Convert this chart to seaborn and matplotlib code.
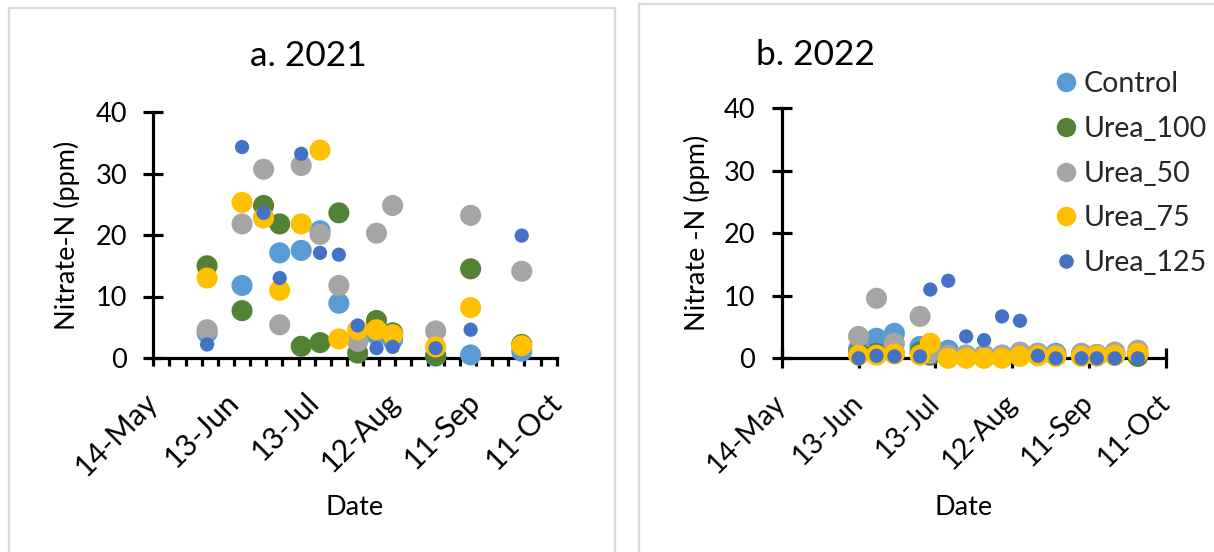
import numpy as np
import pandas as pd
import matplotlib
matplotlib.use("Agg")
import matplotlib.pyplot as plt
import matplotlib.dates as mdates
from matplotlib.ticker import FuncFormatter, FixedLocator
from matplotlib.lines import Line2D
from matplotlib.patches import Rectangle
import seaborn as sns

# ---------------- data ----------------
series = ["Control", "Urea_100", "Urea_50", "Urea_75", "Urea_125"]

dates_2021 = ["2021-06-03", "2021-06-16", "2021-06-24", "2021-06-30", "2021-07-08",
              "2021-07-15", "2021-07-22", "2021-07-29", "2021-08-05", "2021-08-11",
              "2021-08-27", "2021-09-09", "2021-09-28"]
control_2021 = [4.1, 11.8, 22.8, 17.1, 17.5, 20.7, 8.9, 3.0, 3.8, 3.0, 0.3, 0.5, 1.1]
urea100_2021 = [15.0, 7.7, 24.8, 21.8, 1.9, 2.5, 23.6, 0.8, 6.1, 4.1, 0.4, 14.5, 2.2]
urea50_2021 = [4.6, 21.8, 30.7, 5.4, 31.3, 20.1, 11.8, 2.7, 20.3, 24.8, 4.4, 23.2, 14.1]
urea75_2021 = [13.0, 25.3, 22.8, 11.0, 21.8, 33.8, 3.1, 4.6, 4.6, 3.8, 1.8, 8.2, 2.0]
urea125_2021 = [2.2, 34.3, 23.6, 13.0, 33.2, 17.1, 16.8, 5.3, 1.6, 1.8, 1.6, 4.6, 19.9]

dates_2022 = ["2022-06-13", "2022-06-20", "2022-06-27", "2022-07-07", "2022-07-11",
              "2022-07-18", "2022-07-25", "2022-08-01", "2022-08-08", "2022-08-15",
              "2022-08-22", "2022-08-29", "2022-09-08", "2022-09-14", "2022-09-21",
              "2022-09-30"]
control_2022 = [1.5, 3.2, 4.0, 1.9, 0.8, 1.3, 0.5, 0.5, 0.5, 0.8, 0.8, 0.8, 0.6, 0.6, 0.8, 0.8]
urea100_2022 = [0.8, 0.8, 0.8, 1.0, 0.5, 0.3, 0.3, 0.3, 0.3, 0.5, 0.5, 0.5, 0.4, 0.4, 0.5, 0.3]
urea50_2022 = [3.5, 9.6, 2.4, 6.7, 0.8, 0.5, 0.5, 0.5, 0.5, 1.0, 0.8, 0.6, 0.8, 0.6, 1.0, 1.3]
urea75_2022 = [0.5, 0.5, 0.7, 0.5, 2.4, 0.0, 0.0, 0.0, 0.0, 0.3, 0.4, 0.3, 0.3, 0.4, 0.5, 0.8]
urea125_2022 = [0.0, 0.4, 0.3, 0.3, 11.0, 12.4, 3.5, 2.9, 6.7, 6.0, 0.4, 0.0, 0.0, 0.0, 0.0, 0.0]

x_ticks_2021 = ["2021-05-14", "2021-06-13", "2021-07-13", "2021-08-12", "2021-09-11", "2021-10-11"]
x_ticks_2022 = ["2022-05-14", "2022-06-13", "2022-07-13", "2022-08-12", "2022-09-11", "2022-10-11"]
y_ticks = [0, 10, 20, 30, 40]

colors = {"Control": "#5B9BD5", "Urea_100": "#548235", "Urea_50": "#A5A5A5",
          "Urea_75": "#FFC000", "Urea_125": "#4472C4"}
sizes = {"Control": 230, "Urea_100": 230, "Urea_50": 230, "Urea_75": 230, "Urea_125": 105}


def long_df(dates, cols):
    frames = []
    for name, vals in zip(series, cols):
        frames.append(pd.DataFrame({"Date": pd.to_datetime(dates), "Nitrate": vals,
                                    "Treatment": name}))
    return pd.concat(frames, ignore_index=True)


df1 = long_df(dates_2021, [control_2021, urea100_2021, urea50_2021, urea75_2021, urea125_2021])
df2 = long_df(dates_2022, [control_2022, urea100_2022, urea50_2022, urea75_2022, urea125_2022])

# ---------------- figure ----------------
sns.set_theme(style="white")
plt.rcParams["font.family"] = ["Lato", "DejaVu Sans"]

W, H = 1214, 552
fig = plt.figure(figsize=(W / 100, H / 100), dpi=100)
fig.patch.set_facecolor("white")

# chart-area borders
fig.patches.append(Rectangle((9 / W, -0.1), (615 - 9) / W, 1.1 - 8 / H, transform=fig.transFigure,
                             fill=False, edgecolor="#D9D9D9", lw=1.6))
fig.patches.append(Rectangle((639 / W, -0.1), 0.6, 1.1 - 4 / H, transform=fig.transFigure,
                             fill=False, edgecolor="#D9D9D9", lw=1.6))

ax1 = fig.add_axes([153.3 / W, 1 - 358 / H, 403.4 / W, 246 / H])
ax2 = fig.add_axes([781.7 / W, 1 - 358.3 / H, 384.3 / W, 250 / H])

FS = 19.5
lw = 2.3


def fmt_date(x, pos=None):
    d = mdates.num2date(x)
    return f"{d.day}-{d.strftime('%b')}"


for ax, df, ticks in [(ax1, df1, x_ticks_2021), (ax2, df2, x_ticks_2022)]:
    sns.scatterplot(data=df, x="Date", y="Nitrate", hue="Treatment", size="Treatment",
                    hue_order=series, size_order=series, palette=colors, sizes=sizes,
                    linewidth=0, legend=False, ax=ax, clip_on=False, zorder=3)
    ax.set_facecolor("none")
    tk = pd.to_datetime(ticks)
    ax.set_xlim(tk[0], tk[-1])
    ax.set_ylim(0, 40)
    ax.set_yticks(y_ticks)
    ax.xaxis.set_major_locator(FixedLocator(mdates.date2num(tk)))
    ax.xaxis.set_major_formatter(FuncFormatter(fmt_date))
    for s in ["top", "right"]:
        ax.spines[s].set_visible(False)
    for s in ["left", "bottom"]:
        ax.spines[s].set_linewidth(lw)
        ax.spines[s].set_color("black")
    ax.tick_params(axis="y", left=True, direction="inout", length=14, width=lw,
                   pad=12, labelsize=FS, colors="black")
    ax.set_axisbelow(True)

# left: minor ticks every 6 days, outside
minor1 = pd.date_range(x_ticks_2021[0], x_ticks_2021[-1], freq="6D")
ax1.xaxis.set_minor_locator(FixedLocator(mdates.date2num(minor1)))
ax1.tick_params(axis="x", which="both", bottom=True, direction="out", length=5.5, width=lw,
                pad=23, labelsize=21.5, colors="black")
# right: major only, crossing
ax2.tick_params(axis="x", which="major", bottom=True, direction="inout", length=14, width=lw,
                pad=22, labelsize=20.5, colors="black")

for ax in (ax1, ax2):
    for lab in ax.get_xticklabels():
        lab.set_rotation(45)
        lab.set_ha("right")
        lab.set_va("center")
        lab.set_rotation_mode("anchor")

ax1.set_ylabel("Nitrate-N (ppm)", fontsize=FS, color="black")
ax1.yaxis.set_label_coords(-0.214, 0.5)
ax1.yaxis.label.set_va("center")
ax2.set_ylabel("Nitrate -N (ppm)", fontsize=FS, color="black")
ax2.yaxis.set_label_coords(-0.220, 0.5)
ax2.yaxis.label.set_va("center")

ax1.set_xlabel("Date", fontsize=FS, color="black")
ax1.xaxis.set_label_coords(0.5, -0.638)
ax1.xaxis.label.set_va("baseline")
ax2.set_xlabel("Date", fontsize=FS, color="black")
ax2.xaxis.set_label_coords(0.473, -0.627)
ax2.xaxis.label.set_va("baseline")

fig.text(308.5 / W, 1 - 66 / H, "a. 2021", ha="center", va="baseline", fontsize=25.5, color="black")
fig.text(815.5 / W, 1 - 65 / H, "b. 2022", ha="center", va="baseline", fontsize=25.5, color="black")

handles = [Line2D([], [], marker="o", ls="", color=colors[s], markeredgewidth=0,
                  markersize=14 if s != "Urea_125" else 10.5) for s in series]
ax2.legend(handles, series, loc="upper left", bbox_to_anchor=(1052 / W, 1 - 71 / H),
           bbox_transform=fig.transFigure, frameon=False, fontsize=20.5, handletextpad=0.1,
           labelspacing=0.66, borderpad=0, borderaxespad=0, handlelength=1.0)

fig.savefig("out.png", dpi=100, facecolor="white")
